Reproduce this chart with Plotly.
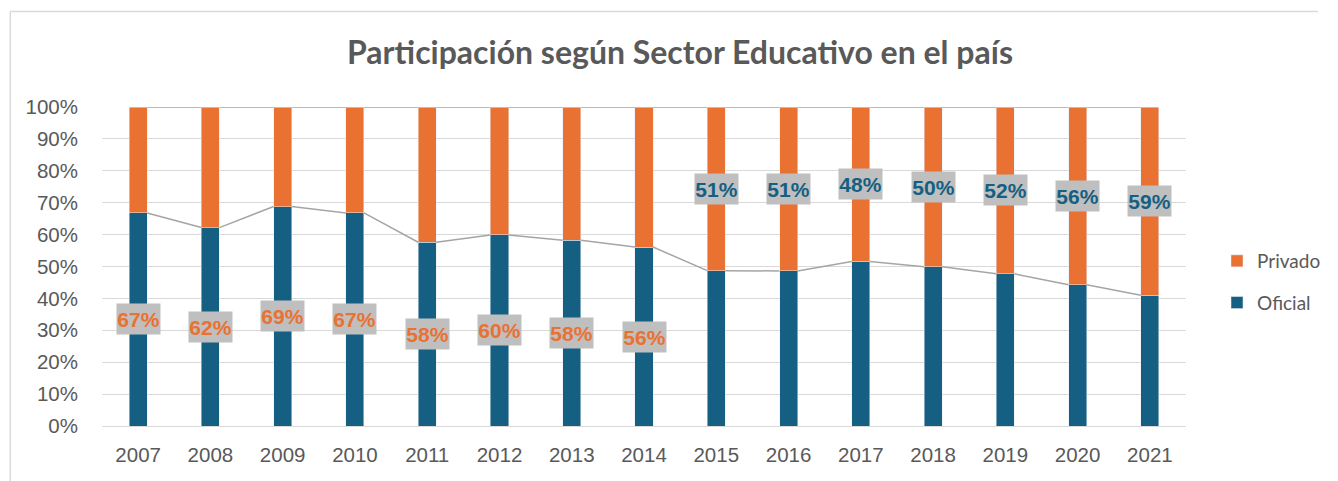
import plotly.graph_objects as go

years = [2007, 2008, 2009, 2010, 2011, 2012, 2013, 2014,
         2015, 2016, 2017, 2018, 2019, 2020, 2021]
oficial = [66.8, 62.2, 68.8, 66.8, 57.6, 59.9, 58.2, 56.1,
           48.7, 48.6, 51.6, 49.9, 47.7, 44.3, 41.0]
privado = [round(100 - v, 1) for v in oficial]
# the label shows the Oficial share up to 2014 and the Privado share from 2015 on
label_series = ["Oficial"] * 8 + ["Privado"] * 7

BLUE = "#156082"
ORANGE = "#E97132"
GRAY_TXT = "#595959"
LINE_GRAY = "#A5A5A5"
BAR_W = 0.25

# page body has an 8px default margin -> figure is 8px smaller and offset
W, H = 1330, 473
L, T = 94, 99
PW, PH = 1102, 319
R = W - L - PW
B = H - T - PH

fig = go.Figure()
fig.add_trace(go.Bar(x=years, y=oficial, name="Oficial", marker_color=BLUE,
                     width=BAR_W, legendrank=2, legendgroup="oficial",
                     hoverinfo="skip"))
fig.add_trace(go.Bar(x=years, y=privado, name="Privado", marker_color=ORANGE,
                     width=BAR_W, legendrank=1, legendgroup="privado",
                     hoverinfo="skip"))

# series lines (Excel style), from right edge of one bar to left edge of the next
def series_line(tops):
    xs, ys = [], []
    for i in range(len(years) - 1):
        xs += [years[i] + BAR_W / 2, years[i + 1] - BAR_W / 2, None]
        ys += [tops[i], tops[i + 1], None]
    return xs, ys

totals = [o + p for o, p in zip(oficial, privado)]
for tops in (oficial, totals):
    xs, ys = series_line(tops)
    fig.add_trace(go.Scatter(x=xs, y=ys, mode="lines", showlegend=False,
                             line=dict(color=LINE_GRAY, width=1.5),
                             cliponaxis=False, hoverinfo="skip"))

annotations = []
for yr, o, p, s in zip(years, oficial, privado, label_series):
    if s == "Oficial":
        val, ypos, col = o, o / 2, ORANGE
    else:
        val, ypos, col = p, o + p / 2, BLUE
    annotations.append(dict(x=yr, y=ypos, xref="x", yref="y", text=f"{round(val)}%",
                            showarrow=False, bgcolor="#BFBFBF", borderpad=0,
                            width=43, height=30, align="center", valign="middle",
                            font=dict(family="Liberation Sans", size=21, color=col,
                                      weight="bold")))

fig.update_layout(
    width=W, height=H,
    margin=dict(l=L, r=R, t=T, b=B),
    paper_bgcolor="white", plot_bgcolor="white",
    barmode="stack",
    title=dict(text="<b>Participación según Sector Educativo en el país</b>",
               x=(680 - 8) / W, xref="container", xanchor="center",
               y=1 - (53 - 8) / H, yanchor="middle",
               font=dict(family="Lato", size=32, color=GRAY_TXT)),
    xaxis=dict(range=[2006.5, 2021.5], tickvals=years, ticktext=[str(y) for y in years],
               showgrid=False, zeroline=False, showline=False,
               tickfont=dict(family="Liberation Sans", size=20.5, color=GRAY_TXT),
               ticks="", ticklabelstandoff=14),
    yaxis=dict(range=[0, 100], dtick=10, ticksuffix="%",
               showgrid=True, gridcolor="#D9D9D9", gridwidth=1,
               zeroline=True, zerolinecolor="#D9D9D9", zerolinewidth=1,
               showline=False, ticks="",
               tickfont=dict(family="Liberation Sans", size=20.5, color=GRAY_TXT),
               ticklabelstandoff=23),
    legend=dict(x=1.0286, xanchor="left", y=(T + PH - (282 - 8)) / PH, yanchor="middle",
                traceorder="grouped", tracegroupgap=14,
                font=dict(family="Lato", size=19, color=GRAY_TXT),
                itemwidth=30),
    annotations=annotations,
    showlegend=True,
)

# chart area border (top and left edges visible)
bx = (0 - L) / PW
by = (T + PH - 3.5) / PH
fig.add_shape(type="line", xref="paper", yref="paper",
              x0=bx + 0.0007, x1=(W - L) / PW, y0=by, y1=by,
              line=dict(color="#D9D9D9", width=1.5))
fig.add_shape(type="line", xref="paper", yref="paper",
              x0=bx + 0.0007, x1=bx + 0.0007, y0=by, y1=-(B + 20) / PH,
              line=dict(color="#D9D9D9", width=1.5))

fig.write_html("out.html")
